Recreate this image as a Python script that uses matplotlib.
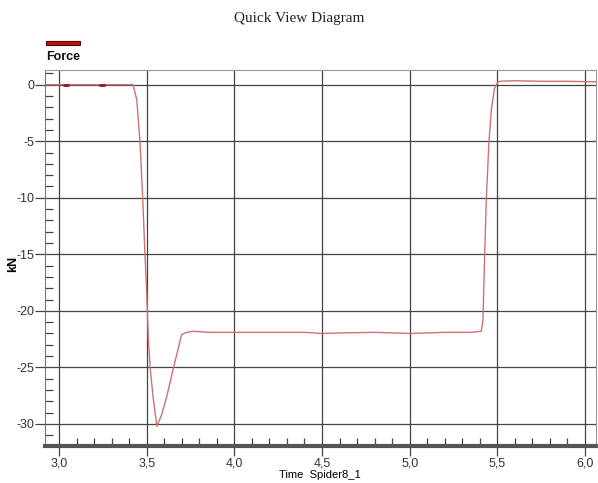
import matplotlib.pyplot as plt
from matplotlib.ticker import MultipleLocator, FuncFormatter

time_s = [2.92, 3.00, 3.10, 3.20, 3.30, 3.40, 3.422, 3.443, 3.462, 3.477, 3.490,
          3.500, 3.509, 3.519, 3.536, 3.558, 3.585, 3.614, 3.650, 3.699, 3.728,
          3.764, 3.85, 4.00, 4.20, 4.40, 4.50, 4.60, 4.80, 5.00, 5.20, 5.35,
          5.409, 5.418, 5.427, 5.437, 5.452, 5.466, 5.484, 5.500, 5.513, 5.60,
          5.75, 5.90, 6.063]
force_kn = [0.0, 0.0, 0.0, 0.0, 0.0, 0.0, 0.0, -1.3, -5.1, -10.0, -15.0,
            -18.4, -22.3, -24.9, -27.6, -30.2, -29.2, -27.6, -25.2, -22.1, -21.9,
            -21.8, -21.9, -21.9, -21.9, -21.9, -22.0, -21.95, -21.9, -22.0, -21.9, -21.9,
            -21.8, -20.8, -15.5, -10.2, -5.1, -2.2, -0.3, 0.15, 0.3, 0.35,
            0.3, 0.3, 0.25]
marker_t = [3.04, 3.243]
marker_f = [0.0, 0.0]

fig = plt.figure(figsize=(5.98, 4.83), dpi=100)
ax = fig.add_axes([0.0753, 0.0766, 0.9214, 0.7785])

ax.plot(time_s, force_kn, color='#d07070', lw=1.0)
ax.plot(marker_t, marker_f, ls='none', marker='_', ms=4, mew=2, color='#8b1a1a')

ax.set_xlim(2.92, 6.063)
ax.set_ylim(-31.95, 1.3)

ax.xaxis.set_major_locator(MultipleLocator(0.5))
ax.xaxis.set_minor_locator(MultipleLocator(0.1))
ax.yaxis.set_major_locator(MultipleLocator(5))
ax.yaxis.set_minor_locator(MultipleLocator(1))
ax.xaxis.set_major_formatter(FuncFormatter(lambda v, p: f'{v:.1f}'.replace('.', ',')))
ax.yaxis.set_major_formatter(FuncFormatter(lambda v, p: f'{v:.0f}'))

ax.grid(True, which='major', color='#444444', lw=0.9)
ax.set_axisbelow(True)

ax.tick_params(which='major', direction='out', length=7, width=0.9, color='#444444',
               labelsize=9, labelcolor='#333333')
ax.tick_params(which='minor', direction='in', length=6, width=0.9, color='#444444')
ax.tick_params(axis='x', which='major', pad=1)
ax.tick_params(axis='y', which='major', pad=0.5)
for lab in ax.get_xticklabels() + ax.get_yticklabels():
    lab.set_family('Liberation Sans')

ax.spines['bottom'].set_linewidth(3)
ax.spines['bottom'].set_color('#555555')
ax.spines['left'].set_color('#777777')
ax.spines['top'].set_color('#999999')
ax.spines['right'].set_color('#999999')

ax.set_ylabel('kN', fontsize=9, fontweight='bold', family='Liberation Sans')
ax.yaxis.set_label_coords(-0.047, 0.485)
ax.set_xlabel('Time  Spider8_1', fontsize=8, family='Liberation Sans')
ax.xaxis.set_label_coords(0.499, -0.064)

fig.text(0.50, 0.962, 'Quick View Diagram', ha='center', va='center',
         fontsize=11, family='Liberation Serif', color='#222222')

# legend: red bar with the series name below
fig.patches.append(plt.Rectangle((46 / 598, 1 - 45 / 483), 34 / 598, 4 / 483,
                                 transform=fig.transFigure, facecolor='#c01010',
                                 edgecolor='#550000', lw=0.8))
fig.text(46 / 598, 1 - 57 / 483, 'Force', ha='left', va='center', fontsize=9,
         fontweight='bold', family='Liberation Sans', color='#111111')

plt.savefig('out.png', dpi=100)
